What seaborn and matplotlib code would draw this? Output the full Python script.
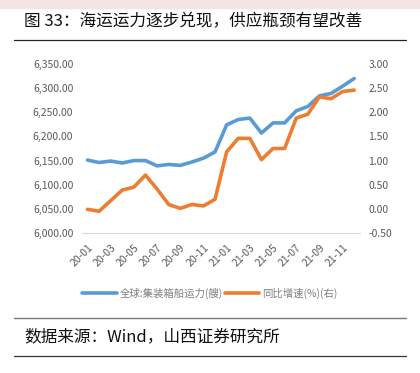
import numpy as np
import pandas as pd
import matplotlib
matplotlib.use('Agg')
import matplotlib.pyplot as plt
import seaborn as sns
from matplotlib.ticker import FuncFormatter, FixedLocator

months = ['20-01', '20-02', '20-03', '20-04', '20-05', '20-06', '20-07', '20-08',
          '20-09', '20-10', '20-11', '20-12', '21-01', '21-02', '21-03', '21-04',
          '21-05', '21-06', '21-07', '21-08', '21-09', '21-10', '21-11', '21-12']
fleet = [6151, 6146, 6149, 6145, 6150, 6150, 6139, 6142, 6140, 6147, 6155, 6168,
         6224, 6235, 6238, 6207, 6228, 6228, 6253, 6262, 6284, 6289, 6304, 6320]
yoy = [-0.01, -0.05, 0.17, 0.39, 0.45, 0.70, 0.41, 0.09, 0.01, 0.09, 0.06, 0.20,
       1.18, 1.46, 1.46, 1.02, 1.25, 1.25, 1.88, 1.96, 2.32, 2.28, 2.43, 2.46]

name_fleet = '全球:集装箱船运力(艘)'
name_yoy = '同比增速(%)(右)'

df = pd.DataFrame({'idx': np.arange(len(months)), 'month': months,
                   'fleet': fleet, 'yoy': yoy})

sns.set_style('white')
plt.rcParams['font.family'] = ['Noto Sans CJK SC', 'DejaVu Sans']

blue = '#5B9BD5'
orange = '#ED7D31'
tick_col = '#595959'

W, H = 420, 373
fig = plt.figure(figsize=(W / 100, H / 100), dpi=100)

# pink band on top
fig.patches.append(plt.Rectangle((0, 1 - 8 / H), 1, 8 / H, transform=fig.transFigure,
                                 color='#F6E4E4', zorder=0))

fig.text(24 / W, 1 - 22 / H, '图 33：海运运力逐步兑现，供应瓶颈有望改善',
         fontsize=12, va='center', ha='left', color='#111111')
fig.add_artist(plt.Line2D([14 / W, 406 / W], [1 - 40 / H, 1 - 40 / H],
                          color='#222222', lw=0.9, transform=fig.transFigure))

ax = fig.add_axes([81.7 / W, 1 - 233 / H, (360 - 81.7) / W, (233 - 64) / H])
ax2 = ax.twinx()

sns.lineplot(data=df, x='idx', y='fleet', ax=ax, color=blue, lw=2.6,
             label=name_fleet, legend=False)
sns.lineplot(data=df, x='idx', y='yoy', ax=ax2, color=orange, lw=2.6,
             label=name_yoy, legend=False)

ax.set_xlim(-0.5, len(months) - 0.5)
ax.set_ylim(6000, 6350)
ax.set_yticks(np.arange(6000, 6351, 50))
ax.yaxis.set_major_formatter(FuncFormatter(lambda v, p: f'{v:,.2f}'))
ax2.set_ylim(-0.5, 3.0)
ax2.set_yticks(np.arange(-0.5, 3.01, 0.5))
ax2.yaxis.set_major_formatter(FuncFormatter(lambda v, p: f'{v:.2f}'))

ax.set_xticks(df['idx'][::2])
ax.set_xticklabels(df['month'][::2], rotation=45, ha='right', rotation_mode='anchor')
ax.xaxis.set_minor_locator(FixedLocator(np.arange(-0.5, len(months), 2)))
ax.tick_params(axis='x', which='major', length=0, pad=7, labelsize=7.5, labelcolor=tick_col)
ax.tick_params(axis='x', which='minor', length=4, color='#D9D9D9', width=0.8, direction='out')
ax.tick_params(axis='y', length=0, labelsize=7.5, labelcolor=tick_col, pad=6)
ax2.tick_params(axis='y', length=0, labelsize=7.5, labelcolor=tick_col, pad=6)

for a in (ax, ax2):
    a.set_xlabel('')
    a.set_ylabel('')
    for s in ('top', 'left', 'right'):
        a.spines[s].set_visible(False)
    a.spines['bottom'].set_color('#D9D9D9')
    a.spines['bottom'].set_linewidth(0.8)
    a.grid(False)
ax2.spines['bottom'].set_visible(False)

h1, l1 = ax.get_legend_handles_labels()
h2, l2 = ax2.get_legend_handles_labels()
fig.legend(h1 + h2, l1 + l2, loc='center', bbox_to_anchor=(0.5, 1 - 293 / H),
           ncol=2, frameon=False, fontsize=7.5, labelcolor='#7F7F7F',
           handlelength=3.3, handletextpad=0.3, columnspacing=0.2)

fig.add_artist(plt.Line2D([14 / W, 406 / W], [1 - 318 / H, 1 - 318 / H],
                          color='#777777', lw=1.0, transform=fig.transFigure))
fig.text(24 / W, 1 - 337 / H, '数据来源：Wind，山西证券研究所',
         fontsize=12, va='center', ha='left', color='#111111')
fig.add_artist(plt.Line2D([14 / W, 406 / W], [1 - 356 / H, 1 - 356 / H],
                          color='#333333', lw=0.9, transform=fig.transFigure))

fig.savefig('out.png', dpi=100)
